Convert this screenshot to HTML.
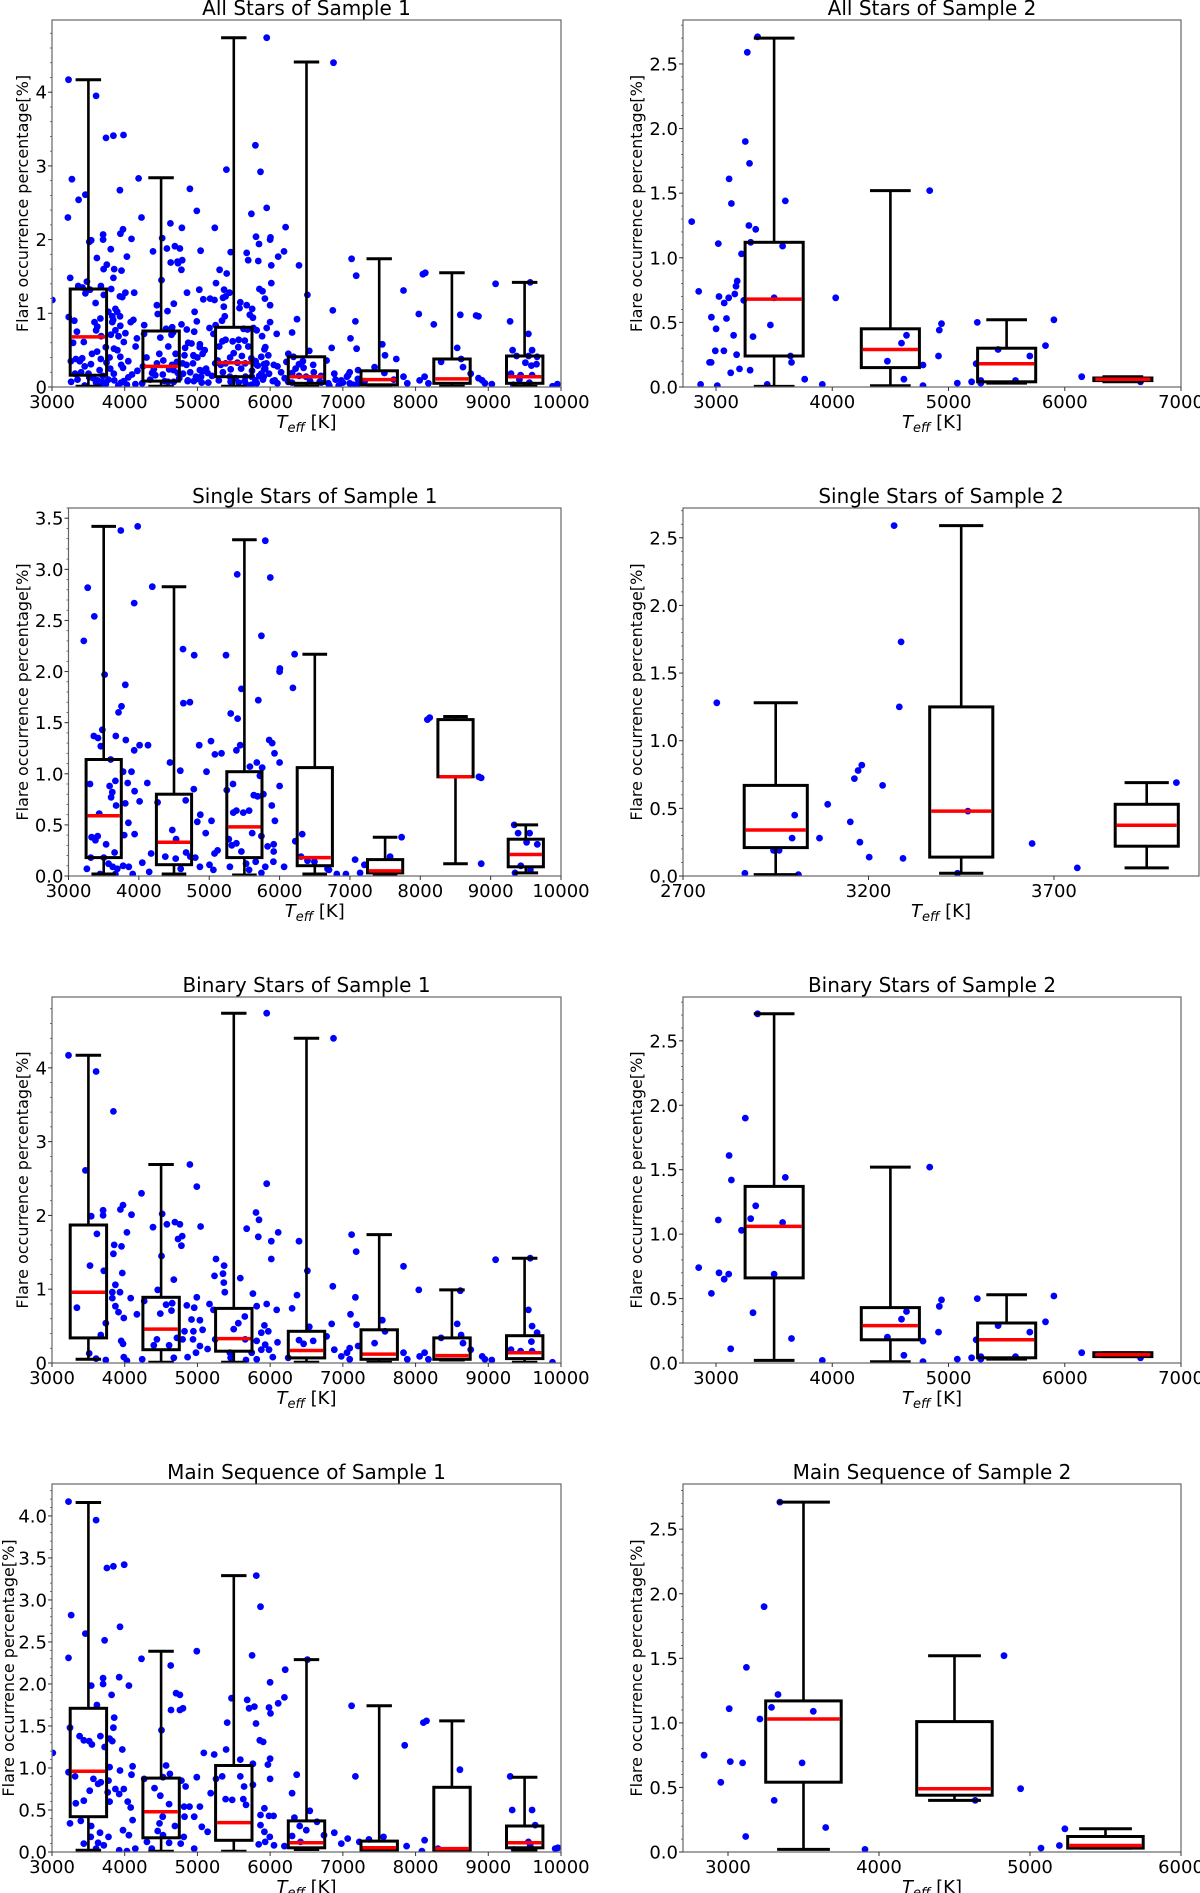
<!DOCTYPE html>
<html>
<head>
<meta charset="utf-8">
<style>
  html,body{margin:0;padding:0;background:#fff;}
  svg{display:block;}
  text{font-family:"DejaVu Sans","Liberation Sans",sans-serif;fill:#000;}
</style>
</head>
<body>
<svg id="fig" width="1200" height="1893" viewBox="0 0 1200 1893" xmlns="http://www.w3.org/2000/svg"></svg>
<script>
// ===== Data: box positions =====
const s1Pos = [3500,4500,5500,6500,7500,8500,9500];
const s2Pos = [3500,4500,5500,6500];
const s2SinglePos = [2950,3450,3950];
const s2MainPos = [3500,4500,5500];

// All stars sample 1 box stats
const all1Lo  = [0.01,0.01,0.01,0.01,0.01,0.01,0.01];
const all1Q1  = [0.16,0.08,0.14,0.05,0.03,0.05,0.05];
const all1Med = [0.68,0.28,0.33,0.14,0.10,0.11,0.14];
const all1Q3  = [1.33,0.76,0.81,0.41,0.22,0.38,0.42];
const all1Hi  = [4.17,2.84,4.74,4.41,1.74,1.55,1.42];

// Single stars sample 1
const sin1Lo  = [0.02,0.02,0.01,0.02,0.02,0.12,0.03];
const sin1Q1  = [0.18,0.11,0.18,0.10,0.03,0.97,0.09];
const sin1Med = [0.59,0.33,0.48,0.18,0.05,0.97,0.21];
const sin1Q3  = [1.14,0.80,1.02,1.06,0.16,1.53,0.36];
const sin1Hi  = [3.42,2.83,3.29,2.17,0.38,1.56,0.50];

// Binary stars sample 1
const bin1Lo  = [0.05,0.01,0.01,0.01,0.01,0.04,0.01];
const bin1Q1  = [0.34,0.18,0.16,0.07,0.05,0.05,0.06];
const bin1Med = [0.96,0.46,0.33,0.17,0.12,0.10,0.14];
const bin1Q3  = [1.87,0.89,0.74,0.43,0.45,0.34,0.37];
const bin1Hi  = [4.17,2.69,4.74,4.40,1.74,0.99,1.42];

// Main sequence sample 1
const ms1Lo  = [0.02,0.01,0.01,0.03,0.01,0.01,0.02];
const ms1Q1  = [0.42,0.17,0.14,0.05,0.02,0.01,0.05];
const ms1Med = [0.96,0.48,0.35,0.11,0.05,0.04,0.11];
const ms1Q3  = [1.71,0.88,1.03,0.37,0.13,0.77,0.31];
const ms1Hi  = [4.16,2.39,3.29,2.29,1.74,1.56,0.89];

// All stars sample 2
const all2Lo  = [0.005,0.01,0.03,0.04];
const all2Q1  = [0.24,0.15,0.04,0.05];
const all2Med = [0.68,0.29,0.18,0.06];
const all2Q3  = [1.12,0.45,0.30,0.07];
const all2Hi  = [2.70,1.52,0.52,0.08];

// Single stars sample 2
const sin2Lo  = [0.01,0.02,0.06];
const sin2Q1  = [0.21,0.14,0.22];
const sin2Med = [0.34,0.48,0.375];
const sin2Q3  = [0.67,1.25,0.53];
const sin2Hi  = [1.28,2.59,0.69];

// Binary stars sample 2
const bin2Lo  = [0.02,0.01,0.03,0.05];
const bin2Q1  = [0.66,0.18,0.04,0.05];
const bin2Med = [1.06,0.29,0.18,0.065];
const bin2Q3  = [1.37,0.43,0.31,0.08];
const bin2Hi  = [2.71,1.52,0.53,0.08];

// Main sequence sample 2
const ms2Lo  = [0.02,0.40,0.03];
const ms2Q1  = [0.54,0.44,0.03];
const ms2Med = [1.03,0.49,0.05];
const ms2Q3  = [1.17,1.01,0.12];
const ms2Hi  = [2.71,1.52,0.18];

// ===== Scatter points [Teff, percentage] =====
const sin1Points = [[3218,2.30],[3273,2.82],[3366,2.54],[3513,1.97],[3480,1.43],[3360,1.37],[3420,1.35],[3459,1.27],[3306,0.90],[3600,1.14],
[3743,3.38],[3983,3.42],[3934,2.67],[3808,1.87],[3754,1.66],[3710,1.60],[3672,1.37],[3814,1.33],[3934,1.23],[4010,1.28],[4130,1.28],
[3896,1.02],[3776,1.02],[3666,0.93],[3584,0.88],[3623,0.82],[3606,0.77],[3677,0.69],[3808,0.71],[3841,0.91],[3939,0.83],[4010,0.73],
[4120,0.91],[3852,0.52],[3939,0.41],[3792,0.40],[3328,0.38],[3415,0.39],[3382,0.35],[3535,0.31],[3437,0.61],[3655,0.23],[3317,0.18],
[3502,0.18],[3568,0.12],[3628,0.09],[3694,0.07],[3776,0.10],[3857,0.09],[4049,0.13],[4174,0.22],[4147,0.04],[3262,0.07],[3448,0.02],
[3666,0.02],[3912,0.02],[4191,2.83],[4442,1.11],[4628,2.22],[4633,1.69],[4726,1.70],[4786,2.16],[4857,1.28],[5026,1.32],[4961,1.02],
[4589,1.03],[4781,0.85],[4267,0.72],[4666,0.74],[4873,0.60],[4830,0.53],[5032,0.54],[4950,0.42],[4475,0.45],[4530,0.36],[4671,0.23],
[4376,0.19],[4524,0.17],[4731,0.19],[4802,0.18],[4595,0.07],[5004,0.11],[5075,0.22],[5119,0.25],[5059,0.06],[4868,0.09],[5239,2.16],
[5305,1.59],[5403,1.54],[5441,1.28],[5387,1.23],[5458,1.83],[5398,2.95],[5081,1.19],[5174,1.20],[5250,0.84],[5338,0.90],[5343,0.62],
[5485,0.62],[5567,0.64],[5387,0.64],[5633,0.79],[5688,0.78],[5770,0.80],[5720,0.98],[5578,1.07],[5677,1.11],[5753,1.06],[5742,2.35],
[5698,1.72],[5797,3.28],[5868,2.92],[5852,1.33],[5895,1.30],[5928,1.20],[6000,1.11],[6005,2.03],[6000,2.00],[6000,0.88],[6213,2.17],
[6190,1.84],[5890,0.69],[5934,0.54],[5278,0.36],[5387,0.32],[5611,0.42],[5742,0.39],[5321,0.30],[5458,0.24],[5830,0.29],[5917,0.31],
[5917,0.24],[5912,0.14],[5797,0.09],[5661,0.14],[5524,0.12],[5294,0.09],[5567,0.06],[5742,0.03],[6064,0.09],[6223,0.34],[6321,0.41],
[6304,0.19],[6397,0.15],[6495,0.14],[6681,0.07],[6703,0.06],[6813,0.02],[6943,0.02],[7074,0.16],[7145,0.03],[7205,0.11],[7735,0.38],
[7571,0.19],[8101,1.53],[8134,1.55],[8833,0.97],[8866,0.96],[8866,0.12],[9335,0.50],[9390,0.42],[9554,0.42],[9663,0.31],[9511,0.33],
[9346,0.03],[9565,0.06],[9428,0.10]];

const bin1Points = [[3227,4.17],[3607,3.95],[3845,3.41],[3460,2.61],[3539,1.99],[3703,2.07],[3703,2.00],[3618,1.75],[3856,1.60],[3845,1.48],
[3523,1.32],[3713,1.25],[3940,2.08],[3977,2.14],[3956,1.58],[3967,1.22],[4030,1.77],[4093,2.01],[3872,1.06],[3829,0.96],[3935,0.96],
[3829,0.88],[3872,0.77],[3914,0.69],[3988,0.61],[3343,0.75],[4083,0.88],[4167,0.66],[3740,0.54],[3671,0.38],[3951,0.30],[3977,0.26],
[3512,0.13],[3740,0.04],[3607,0.06],[3988,0.08],[4030,0.03],[4231,2.30],[4389,1.84],[4516,2.02],[4580,1.88],[4690,1.91],[4759,1.88],
[4506,1.45],[4733,1.68],[4791,1.72],[4780,1.59],[4897,2.69],[4992,2.39],[5044,1.85],[4675,1.13],[4268,0.84],[4453,0.99],[4653,0.81],
[4643,0.71],[4490,0.67],[4569,0.79],[4854,0.78],[4955,0.75],[4992,0.89],[4918,0.59],[5034,0.58],[4822,0.43],[4944,0.43],[5071,0.45],
[4717,0.34],[4796,0.32],[4442,0.32],[4611,0.24],[4400,0.24],[4939,0.32],[5034,0.23],[5140,0.19],[4981,0.14],[4865,0.08],[4675,0.07],
[4241,0.05],[5166,0.80],[5219,0.72],[5256,1.41],[5235,1.18],[5367,1.32],[5351,1.21],[5362,1.09],[5377,0.96],[5589,1.15],[5678,1.82],
[5763,0.94],[5805,2.04],[5847,1.94],[5837,1.71],[5953,2.43],[5953,4.74],[6016,1.65],[6016,1.41],[6111,1.77],[5953,0.80],[5815,0.77],
[5652,0.63],[5562,0.54],[5499,0.46],[6090,0.72],[5921,0.51],[5879,0.41],[5974,0.43],[6101,0.28],[5815,0.30],[5932,0.25],[5657,0.32],
[5245,0.32],[5446,0.14],[5747,0.14],[5879,0.18],[5984,0.18],[6037,0.08],[5815,0.05],[5668,0.04],[5456,0.07],[6249,0.07],[6302,0.74],
[6370,0.92],[6397,1.65],[6513,1.25],[6872,4.40],[6862,1.04],[6846,0.53],[6539,0.49],[6397,0.31],[6460,0.26],[6592,0.30],[6777,0.36],
[6883,0.18],[6978,0.09],[7057,0.14],[7120,1.74],[7184,1.51],[7173,0.89],[7105,0.66],[7189,0.52],[7210,0.23],[7094,0.20],[7094,0.05],
[7437,0.27],[7543,0.58],[7580,0.43],[7834,1.31],[7834,0.14],[7886,0.05],[8045,0.99],[8056,0.09],[8124,0.14],[8177,0.05],[8351,0.34],
[8573,0.53],[8626,0.38],[8652,0.27],[8615,0.98],[8758,0.18],[8916,0.09],[8953,0.05],[9049,0.04],[9101,1.40],[9577,1.42],[9551,0.72],
[9603,0.50],[9593,0.29],[9672,0.41],[9313,0.18],[9445,0.16],[9603,0.16],[9883,0.01]];

// extra stars only visible in the "All Stars" panel
const all1Extra = [[3005,1.18],[3230,0.95],[3250,1.48],[3260,0.35],[3290,0.60],[3400,0.20],[3550,0.45],[3700,0.15],[3800,0.25],[3900,0.50],
[4050,0.35],[4150,0.55],[4300,0.40],[4350,0.10],[4600,0.55],[4700,0.45],[4850,0.30],[4900,0.20],[5000,0.40],[5100,0.50],
[5200,0.15],[5300,0.55],[5450,0.40],[5600,0.25],[5700,0.55],[5800,0.35],[5900,0.10],[6050,0.30],[6150,0.20],[6250,0.45],
[6350,0.25],[6450,0.35],[6600,0.20],[6700,0.15],[6900,0.10],[7300,0.08],[7700,0.10],[8250,0.85],[9300,0.89],[9950,0.04],
[3350,0.10],[3450,0.28],[3620,0.48],[3750,0.33],[3850,0.18],[3950,0.06],[4100,0.17],[4250,0.28],[4420,0.16],[4550,0.08],
[4650,0.30],[4750,0.12],[4950,0.08],[5050,0.14],[5150,0.06],[5350,0.20],[5550,0.33],[5650,0.08],[5750,0.22],[5850,0.15],
[5950,0.32],[6100,0.05],[6200,0.12],[6300,0.06],[6550,0.08],[6800,0.05],[7000,0.06],[7200,0.04]];

const sin2Points = [[2791,1.28],[2867,0.02],[2944,0.19],[2959,0.19],[2994,0.28],[3001,0.45],[3011,0.01],[3068,0.28],[3090,0.53],[3151,0.40],
[3162,0.72],[3172,0.78],[3182,0.82],[3177,0.25],[3202,0.14],[3238,0.67],[3269,2.59],[3288,1.73],[3283,1.25],[3293,0.13],[3440,0.02],
[3468,0.48],[3641,0.24],[3763,0.06],[4030,0.69]];

const bin2Points = [[2851,0.74],[2960,0.54],[3020,1.11],[3026,0.70],[3070,0.65],[3109,0.69],[3113,1.61],[3132,1.42],[3126,0.11],[3252,1.90],
[3219,1.03],[3298,1.12],[3341,1.22],[3318,0.39],[3358,2.71],[3500,0.69],[3573,1.09],[3596,1.44],[3649,0.19],[3914,0.02],[4474,0.20],
[4596,0.34],[4639,0.40],[4616,0.06],[4781,0.17],[4781,0.01],[4838,1.52],[4914,0.24],[4921,0.44],[4940,0.49],[5076,0.03],[5199,0.04],
[5248,0.50],[5238,0.18],[5278,0.03],[5278,0.05],[5427,0.29],[5576,0.05],[5699,0.24],[5834,0.32],[5907,0.52],[6146,0.08],[6652,0.04]];

const ms1Points = [[3011,1.18],[3227,4.17],[3227,2.31],[3264,2.82],[3248,1.48],[3227,0.95],[3317,0.90],[3248,0.34],[3460,2.60],[3607,3.95],
[3539,1.98],[3703,2.07],[3703,2.00],[3618,1.75],[3724,2.52],[3755,3.38],[3845,3.40],[3993,3.42],[3935,2.68],[3924,2.08],[4057,1.98],
[3819,1.87],[3856,1.60],[3845,1.48],[3380,1.38],[3438,1.33],[3512,1.32],[3549,1.28],[3666,1.38],[3792,1.35],[3829,1.32],[3967,1.22],
[3724,1.25],[3792,1.01],[3777,0.85],[3935,0.97],[4109,1.02],[4093,0.92],[3872,0.75],[3988,0.75],[3924,0.69],[3766,0.71],[3671,0.83],
[3570,0.87],[3634,0.81],[3518,0.73],[3438,0.61],[3327,0.58],[3792,0.60],[4041,0.60],[4083,0.53],[4109,0.38],[3977,0.26],[4057,0.20],
[3396,0.37],[3539,0.31],[3660,0.23],[3533,0.18],[3634,0.11],[3777,0.18],[3713,0.08],[3438,0.10],[3607,0.04],[3924,0.02],[4146,0.04],
[4030,0.01],[4231,2.30],[4506,1.45],[4632,2.22],[4637,1.69],[4706,1.89],[4759,1.87],[4759,1.69],[4801,1.71],[4992,2.39],[4268,0.87],
[4410,0.76],[4569,1.03],[4622,0.93],[4527,0.89],[4780,0.85],[4838,0.78],[4490,0.67],[4611,0.57],[4817,0.54],[4891,0.54],[5034,0.54],
[4992,0.89],[4522,0.42],[4479,0.34],[4690,0.31],[4955,0.42],[4822,0.42],[4453,0.25],[4527,0.20],[4611,0.11],[4770,0.10],[4812,0.18],
[4305,0.12],[4373,0.04],[4955,0.04],[5087,1.18],[5230,1.16],[5060,0.30],[5140,0.24],[5182,0.70],[5256,0.87],[5394,1.22],[5410,1.54],
[5468,1.83],[5340,0.90],[5388,0.63],[5478,0.62],[5589,1.10],[5589,0.90],[5642,0.78],[5631,0.63],[5668,0.56],[5684,1.81],[5752,2.34],
[5710,1.71],[5784,1.73],[5805,1.53],[5810,3.29],[5868,2.92],[5858,1.33],[5905,1.31],[5763,1.05],[5763,0.80],[5921,0.52],[5969,1.04],
[6000,1.11],[6000,2.02],[5984,1.72],[6005,1.65],[6000,0.87],[6111,1.77],[6196,1.84],[6207,2.17],[5984,0.43],[6048,0.43],[5868,0.44],
[5868,0.32],[5921,0.24],[5995,0.18],[5842,0.09],[5932,0.12],[6053,0.08],[6196,0.07],[6302,0.70],[6365,0.92],[6333,0.41],[6513,2.29],
[6545,0.49],[6407,0.31],[6497,0.26],[6645,0.36],[6740,0.20],[6302,0.19],[6418,0.12],[6883,0.23],[6978,0.10],[7067,0.16],[7120,1.74],
[7173,0.90],[7226,0.12],[7358,0.15],[7559,0.18],[7850,1.27],[7876,0.07],[8087,0.01],[8108,1.54],[8150,1.56],[8124,0.14],[8309,0.04],
[8610,0.98],[9302,0.90],[9329,0.50],[9603,0.50],[9645,0.32],[9355,0.03],[9551,0.12],[9577,0.07],[9920,0.04],[9957,0.05]];

const ms2Points = [[2842,0.75],[2952,0.54],[3008,1.11],[3015,0.70],[3097,0.69],[3117,0.12],[3122,1.43],[3211,1.03],[3239,1.90],[3288,1.12],
[3306,0.40],[3331,1.22],[3344,2.71],[3491,0.69],[3565,1.09],[3647,0.19],[3907,0.02],[4637,0.40],[4828,1.52],[4938,0.49],[5073,0.03],
[5195,0.05],[5231,0.18]];

// Tick labels
const s1XTicks = [3000,4000,5000,6000,7000,8000,9000,10000];
const s2XTicks = [3000,4000,5000,6000,7000];
const s2SingleXTicks = [2700,3200,3700];
const s2MainXTicks = [3000,4000,5000,6000];
const intYTicks = [0,1,2,3,4];
const singleYTicks = [0,0.5,1,1.5,2,2.5,3,3.5];
const mainYTicks = [0,0.5,1,1.5,2,2.5,3,3.5,4];
const s2YTicks = [0,0.5,1,1.5,2,2.5];

// ===== Rendering =====
const NS = 'http://www.w3.org/2000/svg';
const svg = document.getElementById('fig');
function mk(tag, attrs, parent){
  const e = document.createElementNS(NS, tag);
  for (const k in attrs) e.setAttribute(k, attrs[k]);
  (parent||svg).appendChild(e);
  return e;
}

function drawPanel(cfg){
  const g = mk('g', {});
  
  
  const sx = t => cfg.x0 + (t - cfg.xmin) / (cfg.xmax - cfg.xmin) * (cfg.x1 - cfg.x0);
  const sy = v => cfg.y1 - v / cfg.ymax * (cfg.y1 - cfg.y0);

  const clipId = 'clip-' + cfg.name;
  const cp = mk('clipPath', {id: clipId}, g);
  mk('rect', {x: cfg.x0, y: cfg.y0, width: cfg.x1 - cfg.x0, height: cfg.y1 - cfg.y0}, cp);

  const pg = mk('g', {'clip-path': 'url(#' + clipId + ')'}, g);
  
  
  cfg.points.forEach(p => {
    const c = mk('circle', {cx: sx(p[0]).toFixed(1), cy: sy(p[1]).toFixed(1), r: 3.4, fill: '#0000ff'}, pg);
    
    
  });

  const bg = mk('g', {'clip-path': 'url(#' + clipId + ')'}, g);
  cfg.pos.forEach((t, i) => {
    const cx = sx(t);
    const hw = (sx(t + cfg.bw / 2) - sx(t - cfg.bw / 2)) / 2;
    const cw = hw * 0.7;
    const bx = mk('g', {}, bg);
    
    
    const ln = (x1, y1, x2, y2, col, w) => mk('line', {x1: x1.toFixed(1), y1: y1.toFixed(1), x2: x2.toFixed(1), y2: y2.toFixed(1), stroke: col, 'stroke-width': w}, bx);
    ln(cx, sy(cfg.q3[i]), cx, sy(cfg.hi[i]), '#000', 2.6);
    ln(cx, sy(cfg.q1[i]), cx, sy(cfg.lo[i]), '#000', 2.6);
    ln(cx - cw, sy(cfg.hi[i]), cx + cw, sy(cfg.hi[i]), '#000', 3);
    ln(cx - cw, sy(cfg.lo[i]), cx + cw, sy(cfg.lo[i]), '#000', 3);
    mk('rect', {x: (cx - hw).toFixed(1), y: sy(cfg.q3[i]).toFixed(1), width: (2 * hw).toFixed(1), height: Math.max(0.5, sy(cfg.q1[i]) - sy(cfg.q3[i])).toFixed(1), fill: 'none', stroke: '#000', 'stroke-width': 3}, bx);
    ln(cx - hw + 1.5, sy(cfg.med[i]), cx + hw - 1.5, sy(cfg.med[i]), '#ff0000', 3.5);
  });

  const fr = mk('rect', {x: cfg.x0, y: cfg.y0, width: cfg.x1 - cfg.x0, height: cfg.y1 - cfg.y0, fill: 'none', stroke: '#666', 'stroke-width': 1.2}, g);
  
  

  const xa = mk('g', {}, g);
  
  
  cfg.xticks.forEach(t => {
    const x = sx(t);
    mk('line', {x1: x, y1: cfg.y1, x2: x, y2: cfg.y1 + 4, stroke: '#333', 'stroke-width': 1}, xa);
    const tx = mk('text', {x: x, y: cfg.y1 + 21, 'font-size': 18, 'text-anchor': 'middle'}, xa);
    tx.textContent = String(t);
    
    
  });
  const xl = mk('text', {x: (cfg.x0 + cfg.x1) / 2, y: cfg.y1 + 41, 'font-size': 18, 'text-anchor': 'middle'}, g);
  
  
  const t1 = document.createElementNS(NS, 'tspan'); t1.setAttribute('font-style', 'italic'); t1.textContent = 'T'; xl.appendChild(t1);
  const t2 = document.createElementNS(NS, 'tspan'); t2.setAttribute('font-style', 'italic'); t2.setAttribute('font-size', '13'); t2.setAttribute('dy', '4'); t2.textContent = 'eff'; xl.appendChild(t2);
  const t3 = document.createElementNS(NS, 'tspan'); t3.setAttribute('dy', '-4'); t3.textContent = ' [K]'; xl.appendChild(t3);

  const ya = mk('g', {}, g);
  
  
  const step = cfg.yticks[1] - cfg.yticks[0];
  for (let v = 0; v <= cfg.ymax + 1e-9; v += step / 5) {
    const y = sy(v);
    mk('line', {x1: cfg.x0, y1: y, x2: cfg.x0 - 2, y2: y, stroke: '#555', 'stroke-width': 0.8}, ya);
  }
  cfg.yticks.forEach(v => {
    const y = sy(v);
    mk('line', {x1: cfg.x0, y1: y, x2: cfg.x0 - 4, y2: y, stroke: '#333', 'stroke-width': 1}, ya);
    const tx = mk('text', {x: cfg.x0 - 5, y: y + 6.5, 'font-size': 18, 'text-anchor': 'end'}, ya);
    tx.textContent = cfg.ydec ? v.toFixed(1) : String(v);
    
    
  });
  const cy = (cfg.y0 + cfg.y1) / 2;
  const yl = mk('text', {x: cfg.ylx, y: cy, 'font-size': 16, 'text-anchor': 'middle', transform: 'rotate(-90 ' + cfg.ylx + ' ' + cy + ')', dy: 6}, g);
  yl.textContent = 'Flare occurrence percentage[%]';
  
  

  const ti = mk('text', {x: (cfg.x0 + cfg.x1) / 2, y: cfg.y0 - 5, 'font-size': 20, 'text-anchor': 'middle'}, g);
  ti.textContent = cfg.title;
  
  
}

const S1 = {xmin: 3000, xmax: 10000, bw: 500, pos: s1Pos, xticks: s1XTicks};
const S2 = {xmin: 2716, xmax: 7000, bw: 500, pos: s2Pos, xticks: s2XTicks};

drawPanel(Object.assign({}, S1, {name: 'all-stars-sample-1', title: 'All Stars of Sample 1', x0: 52, x1: 561, y0: 20, y1: 387, ymax: 4.98,
  yticks: intYTicks, ydec: false, ylx: 22, lo: all1Lo, q1: all1Q1, med: all1Med, q3: all1Q3, hi: all1Hi,
  points: sin1Points.concat(bin1Points, all1Extra)}));
drawPanel(Object.assign({}, S2, {name: 'all-stars-sample-2', title: 'All Stars of Sample 2', x0: 683, x1: 1181, y0: 20, y1: 387, ymax: 2.84,
  yticks: s2YTicks, ydec: true, ylx: 636, lo: all2Lo, q1: all2Q1, med: all2Med, q3: all2Q3, hi: all2Hi,
  points: sin2Points.concat(bin2Points)}));
drawPanel(Object.assign({}, S1, {name: 'single-stars-sample-1', title: 'Single Stars of Sample 1', x0: 68.5, x1: 561, y0: 508, y1: 876, ymax: 3.6,
  yticks: singleYTicks, ydec: true, ylx: 22, lo: sin1Lo, q1: sin1Q1, med: sin1Med, q3: sin1Q3, hi: sin1Hi, points: sin1Points}));
drawPanel({name: 'single-stars-sample-2', title: 'Single Stars of Sample 2', xmin: 2700, xmax: 4091, bw: 170, pos: s2SinglePos, xticks: s2SingleXTicks,
  x0: 683, x1: 1199, y0: 508, y1: 876, ymax: 2.72, yticks: s2YTicks, ydec: true, ylx: 636,
  lo: sin2Lo, q1: sin2Q1, med: sin2Med, q3: sin2Q3, hi: sin2Hi, points: sin2Points});
drawPanel(Object.assign({}, S1, {name: 'binary-stars-sample-1', title: 'Binary Stars of Sample 1', x0: 52, x1: 561, y0: 997, y1: 1363, ymax: 4.96,
  yticks: intYTicks, ydec: false, ylx: 22, lo: bin1Lo, q1: bin1Q1, med: bin1Med, q3: bin1Q3, hi: bin1Hi, points: bin1Points}));
drawPanel(Object.assign({}, S2, {name: 'binary-stars-sample-2', title: 'Binary Stars of Sample 2', x0: 683, x1: 1181, y0: 997, y1: 1363, ymax: 2.84,
  yticks: s2YTicks, ydec: true, ylx: 636, lo: bin2Lo, q1: bin2Q1, med: bin2Med, q3: bin2Q3, hi: bin2Hi, points: bin2Points}));
drawPanel(Object.assign({}, S1, {name: 'main-sequence-sample-1', title: 'Main Sequence of Sample 1', x0: 52, x1: 561, y0: 1484, y1: 1852, ymax: 4.38,
  yticks: mainYTicks, ydec: true, ylx: 8, lo: ms1Lo, q1: ms1Q1, med: ms1Med, q3: ms1Q3, hi: ms1Hi, points: ms1Points}));
drawPanel({name: 'main-sequence-sample-2', title: 'Main Sequence of Sample 2', xmin: 2702, xmax: 6000, bw: 500, pos: s2MainPos, xticks: s2MainXTicks,
  x0: 683, x1: 1181, y0: 1484, y1: 1852, ymax: 2.85, yticks: s2YTicks, ydec: true, ylx: 636,
  lo: ms2Lo, q1: ms2Q1, med: ms2Med, q3: ms2Q3, hi: ms2Hi, points: ms2Points});
</script>
</body>
</html>
